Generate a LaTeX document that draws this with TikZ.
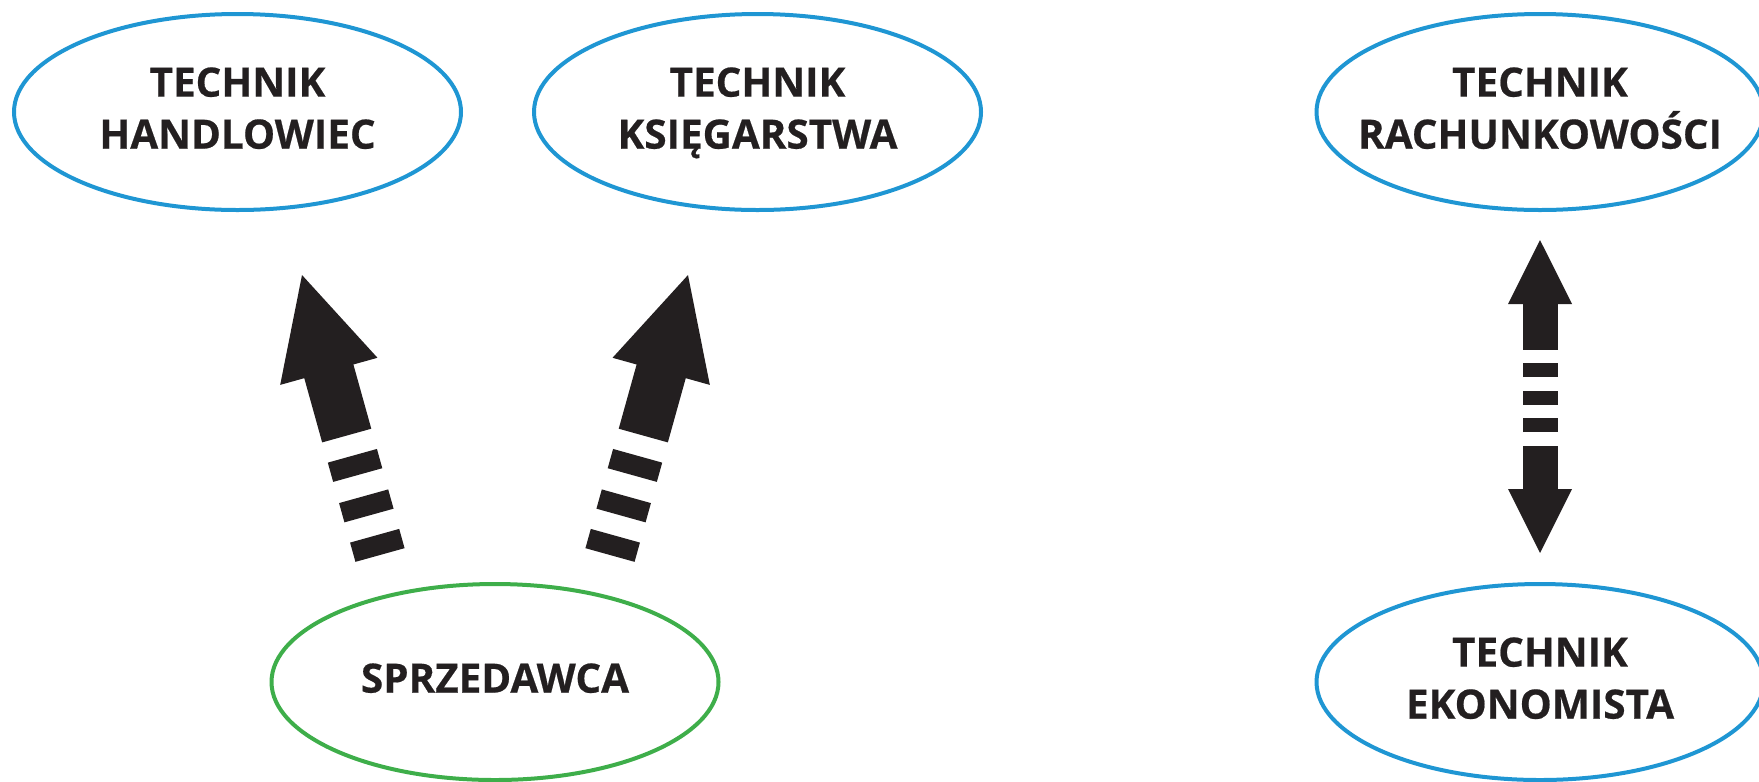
\documentclass[tikz,border=0pt]{standalone}
\usepackage{fontspec}
\setmainfont{Open Sans}[BoldFeatures={FakeBold=0.5}]
\usetikzlibrary{shapes.geometric, arrows.meta}
\definecolor{ovalblue}{RGB}{31,150,211}
\definecolor{ovalgreen}{RGB}{62,174,74}
\definecolor{ink}{RGB}{35,31,32}

\begin{document}
\begin{tikzpicture}[
  oval/.style={draw=ovalblue, line width=0.04cm, ellipse, minimum width=4.47cm, minimum height=1.96cm, inner xsep=-0.6cm, inner ysep=0pt, text depth=0.08cm, align=center, text=ink, font=\fontsize{11.5}{14.8}\selectfont\bfseries},
  seller/.style={oval, draw=ovalgreen},
  bigarrow/.style={draw=ink, line width=0.51cm, -{Triangle[length=1.0cm, width=1.0cm, line width=0.04cm]}, dash pattern=on 0.2cm off 0.21cm on 0.2cm off 0.22cm on 0.2cm off 0.21cm on 3cm},
  updown/.style={draw=ink, line width=0.35cm, {Triangle[length=0.64cm, width=0.63cm, line width=0.04cm]}-{Triangle[length=0.64cm, width=0.63cm, line width=0.04cm]}, dash pattern=on 0.44cm off 0.14cm on 0.14cm off 0.135cm on 0.14cm off 0.135cm on 0.14cm off 0.135cm on 1cm}
]
\useasboundingbox (0,0) rectangle (17.59,7.81);
\node[oval] (hand) at (2.375,6.69) {TECHNIK\\HANDLOWIEC};
\node[oval] (ksieg) at (7.575,6.69) {TECHNIK\\KSIĘGARSTWA};
\node[oval] (rach) at (15.40,6.69) {TECHNIK\\RACHUNKOWOŚCI};
\node[oval] (ekon) at (15.40,0.99) {TECHNIK\\EKONOMISTA};
\node[seller] (sprz) at (4.95,0.99) {SPRZEDAWCA};
% arrows from the seller
\coordinate (hbase) at (3.80,2.26);
\coordinate (htip) at (3.02,5.06);
\coordinate (kbase) at (6.10,2.26);
\coordinate (ktip) at (6.88,5.06);
\draw[bigarrow] (hbase) -- (htip);
\draw[bigarrow] (kbase) -- (ktip);
% two-way arrow
\coordinate (etip) at (15.40,2.28);
\coordinate (rtip) at (15.40,5.41);
\draw[updown] (etip) -- (rtip);
\end{tikzpicture}
\end{document}
